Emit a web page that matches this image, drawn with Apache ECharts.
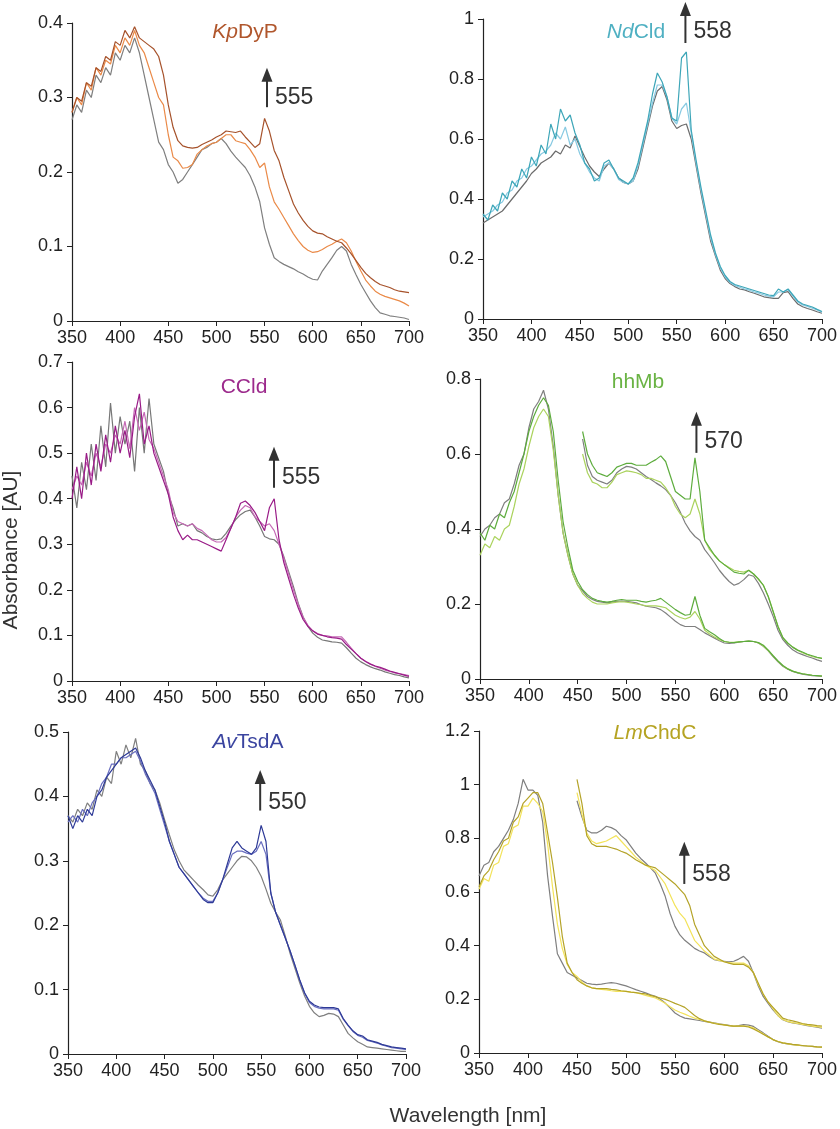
<!DOCTYPE html>
<html><head><meta charset="utf-8">
<script src="https://cdn.jsdelivr.net/npm/echarts@6/dist/echarts.min.js"></script>
<style>html,body{margin:0;padding:0;background:#fff}#c{width:840px;height:1129px}</style>
</head><body><div id="c"></div>
<script>
// ---------- DATA ----------
const wavelengths = [350,355,360,365,370,375,380,385,390,395,400,405,410,415,420,425,430,435,440,445,450,455,460,465,470,475,480,485,490,495,500,505,510,515,520,525,530,535,540,545,550,555,560,565,570,575,580,585,590,595,600,605,610,615,620,625,630,635,640,645,650,655,660,665,670,675,680,685,690,695,700];

// KpDyP
const kpGrey = [.27,.29,.28,.31,.30,.33,.32,.34,.33,.36, .35,.37,.36,.38,.36,.33,.30,.27,.24,.23, .21,.20,.185,.19,.20,.21,.22,.23,.233,.238, .24,.245,.238,.228,.22,.213,.206,.195,.18,.16, .125,.103,.085,.08,.076,.073,.07,.066,.063,.059, .056,.055,.067,.076,.085,.095,.10,.094,.076,.062, .049,.038,.027,.018,.011,.009,.007,.006,.005,.004, .002];
const kpOrange = [.28,.30,.29,.32,.31,.34,.33,.35,.345,.37, .36,.38,.37,.39,.37,.36,.34,.32,.30,.29, .25,.22,.215,.205,.206,.21,.224,.23,.235,.238, .24,.245,.25,.25,.242,.24,.238,.23,.22,.206, .212,.18,.16,.15,.139,.128,.117,.108,.10,.095, .092,.093,.096,.10,.103,.107,.11,.105,.094,.08, .067,.055,.047,.04,.036,.033,.031,.029,.027,.024, .02];
const kpBrown = [.28,.30,.295,.32,.315,.34,.335,.355,.35,.375, .37,.39,.38,.395,.38,.375,.37,.365,.355,.33, .29,.26,.242,.235,.233,.232,.233,.237,.24,.243, .247,.25,.255,.254,.253,.255,.247,.24,.233,.238, .272,.255,.229,.215,.193,.175,.157,.145,.135,.127, .121,.118,.117,.113,.11,.107,.105,.098,.09,.081, .072,.064,.058,.053,.049,.047,.045,.042,.04,.039, .038];

// NdCld
const ndGrey = [.32,.33,.34,.35,.36,.38,.40,.42,.44,.46, .485,.50,.52,.53,.54,.56,.55,.58,.57,.61, .575,.54,.51,.49,.475,.50,.52,.50,.47,.455, .45,.46,.50,.57,.64,.71,.76,.775,.73,.66, .635,.645,.65,.60,.51,.42,.34,.26,.21,.163, .135,.118,.108,.10,.097,.091,.086,.08,.074,.071, .069,.069,.088,.091,.069,.05,.041,.035,.03,.024, .019];
const ndLight = [.34,.35,.36,.38,.39,.42,.43,.46,.47,.50, .51,.53,.55,.56,.58,.62,.60,.64,.58,.60, .55,.52,.49,.47,.46,.51,.52,.50,.465,.455, .45,.46,.51,.58,.65,.72,.78,.78,.74,.67, .65,.70,.72,.62,.52,.43,.35,.27,.215,.17, .14,.122,.112,.106,.10,.096,.09,.086,.08,.076, .074,.09,.09,.098,.076,.057,.047,.042,.036,.03, .023];
const ndTeal = [.35,.33,.38,.36,.42,.40,.46,.44,.50,.47, .54,.51,.58,.55,.65,.60,.70,.66,.68,.62, .58,.52,.50,.46,.47,.52,.53,.50,.47,.46, .45,.47,.52,.59,.66,.75,.82,.79,.74,.67, .66,.87,.89,.63,.53,.44,.36,.28,.22,.175, .145,.125,.115,.11,.105,.10,.095,.09,.085,.08, .078,.10,.09,.10,.08,.06,.05,.045,.04,.032, .025];

// CCld
const ccGrey = [.45,.38,.48,.42,.52,.44,.56,.47,.61,.50, .58,.52,.57,.46,.60,.50,.62,.52,.49,.46, .41,.38,.34,.345,.34,.345,.33,.325,.317,.312, .31,.312,.324,.34,.354,.365,.372,.375,.36,.34, .317,.312,.31,.30,.273,.24,.207,.17,.141,.12, .105,.096,.09,.088,.086,.085,.083,.073,.061,.05, .042,.036,.031,.027,.024,.02,.017,.014,.012,.009, .007];
const ccPink = [.42,.45,.43,.48,.45,.50,.47,.52,.50,.54, .52,.57,.51,.60,.55,.59,.53,.51,.48,.45, .42,.37,.35,.345,.34,.345,.335,.33,.32,.31, .305,.305,.315,.335,.36,.375,.385,.38,.36,.35, .34,.345,.33,.30,.27,.235,.20,.168,.14,.122, .11,.104,.10,.099,.097,.097,.097,.085,.072,.06, .05,.043,.037,.032,.028,.024,.021,.018,.016,.014, .012];
const ccPurple = [.40,.47,.40,.50,.43,.52,.46,.54,.48,.56, .50,.55,.49,.58,.63,.52,.56,.50,.47,.44, .41,.36,.33,.31,.32,.31,.31,.305,.30,.295, .29,.285,.31,.335,.36,.39,.395,.385,.37,.35, .33,.38,.40,.31,.26,.225,.19,.16,.135,.12, .11,.103,.10,.097,.095,.094,.092,.08,.07,.06, .05,.043,.037,.033,.03,.026,.022,.019,.016,.013, .01];

// hhMb (full spectra from 350 nm; expanded spectra from 455 nm)
const hhGreyA = [.38,.40,.41,.43,.44,.47,.48,.52,.57,.60, .67,.72,.74,.77,.72,.62,.49,.39,.33,.28, .25,.235,.22,.212,.207,.205,.203,.205,.207,.208, .207,.205,.203,.198,.194,.192,.19,.185,.176,.165, .154,.145,.14,.14,.14,.132,.123,.116,.109,.102, .096,.095,.096,.098,.10,.101,.10,.096,.087,.075, .06,.046,.034,.026,.02,.016,.013,.011,.009,.008, .007];
const hhLightA = [.33,.36,.35,.38,.37,.40,.41,.46,.52,.56, .62,.67,.70,.72,.70,.61,.49,.39,.33,.28, .25,.228,.215,.205,.20,.20,.20,.203,.205,.206, .205,.203,.20,.198,.195,.195,.195,.193,.19,.18, .17,.164,.16,.165,.18,.16,.13,.12,.112,.105, .10,.098,.098,.099,.10,.101,.10,.096,.088,.076, .061,.047,.035,.027,.021,.017,.014,.012,.01,.009, .008];
const hhDarkA = [.39,.37,.41,.40,.44,.43,.47,.50,.55,.60, .66,.70,.73,.75,.73,.66,.53,.42,.35,.29, .26,.238,.225,.215,.21,.207,.205,.207,.21,.212, .21,.21,.21,.207,.205,.208,.21,.215,.205,.195, .185,.177,.17,.172,.22,.17,.135,.126,.118,.108, .10,.098,.097,.099,.10,.101,.10,.097,.09,.077, .062,.048,.036,.027,.021,.017,.014,.012,.01,.009, .008];
const hhGreyB = [.64,.57,.54,.53,.525,.52,.53,.55,.56, .567,.565,.56,.55,.54,.532,.523,.515,.505,.49, .47,.445,.416,.395,.38,.37,.345,.328,.31,.29, .274,.26,.25,.255,.265,.278,.274,.255,.23,.20, .167,.13,.105,.09,.078,.07,.065,.06,.056,.051, .047];
const hhLightB = [.60,.55,.525,.52,.51,.51,.525,.545,.55, .555,.553,.55,.545,.535,.535,.53,.525,.51,.49, .46,.44,.43,.44,.48,.44,.37,.345,.33,.315, .305,.297,.29,.287,.285,.29,.28,.265,.25,.22, .18,.14,.11,.095,.085,.077,.07,.065,.06,.057, .055];
const hhDarkB = [.66,.60,.57,.55,.545,.54,.55,.565,.57, .575,.575,.57,.57,.57,.578,.585,.595,.58,.54, .50,.49,.48,.48,.59,.50,.37,.35,.33,.315, .305,.295,.285,.282,.28,.29,.28,.267,.25,.22, .18,.14,.11,.096,.085,.077,.072,.066,.062,.058, .055];

// AvTsdA
const avGrey = [.37,.36,.38,.37,.39,.38,.41,.40,.43,.42, .47,.45,.48,.46,.49,.45,.44,.42,.41,.39, .364,.34,.317,.30,.286,.278,.27,.262,.255,.247, .245,.255,.27,.28,.29,.30,.307,.306,.30,.29, .276,.256,.234,.22,.208,.183,.156,.133,.11,.09, .074,.064,.058,.06,.063,.062,.058,.045,.032,.025, .019,.015,.011,.01,.009,.008,.007,.006,.005,.004, .004];
const avMid = [.36,.37,.36,.38,.37,.39,.40,.42,.43,.45, .45,.46,.46,.465,.47,.455,.435,.42,.405,.38, .355,.33,.31,.29,.28,.27,.26,.25,.242,.237, .237,.25,.27,.29,.31,.315,.315,.312,.31,.315, .33,.31,.25,.22,.20,.18,.16,.137,.114,.094, .08,.074,.071,.07,.07,.07,.068,.054,.044,.035, .029,.026,.021,.019,.017,.014,.012,.01,.009,.008, .007];
const avDark = [.37,.35,.37,.36,.38,.37,.40,.41,.43,.44, .45,.46,.465,.47,.475,.46,.44,.425,.41,.385, .36,.33,.31,.29,.28,.27,.26,.25,.24,.235, .235,.25,.27,.295,.32,.33,.32,.315,.31,.32, .355,.33,.25,.22,.20,.18,.16,.138,.115,.095, .082,.076,.073,.072,.072,.072,.07,.055,.045,.036, .03,.028,.022,.02,.018,.015,.013,.011,.01,.009, .008];

// LmChdC (full spectra from 350 nm; expanded spectra from 450 nm)
const lmGreyA = [.66,.70,.71,.75,.77,.80,.83,.87,.93,1.02, .98,.98,.96,.86,.66,.51,.37,.335,.30,.29, .28,.27,.26,.257,.255,.257,.26,.262,.26,.255, .25,.243,.236,.23,.224,.217,.211,.20,.186,.168, .149,.138,.13,.127,.124,.121,.118,.115,.112,.109, .106,.103,.099,.102,.106,.104,.099,.087,.075,.062, .05,.042,.037,.034,.031,.029,.027,.026,.025,.023, .022];
const lmYellowA = [.61,.65,.64,.70,.71,.77,.78,.84,.85,.92, .92,.95,.93,.90,.78,.62,.48,.39,.33,.30, .285,.265,.25,.243,.24,.237,.235,.232,.23,.23, .23,.227,.225,.22,.215,.21,.205,.196,.185,.172, .16,.152,.145,.137,.13,.125,.12,.115,.111,.108, .105,.102,.10,.10,.10,.099,.094,.083,.072,.06, .05,.043,.038,.034,.031,.029,.027,.026,.025,.023, .022];
const lmOliveA = [.62,.66,.68,.72,.75,.79,.80,.86,.88,.93, .95,.97,.97,.93,.82,.71,.58,.435,.335,.30, .273,.26,.25,.243,.24,.24,.24,.237,.235,.232, .23,.227,.225,.222,.22,.215,.21,.205,.20,.193, .185,.178,.17,.155,.14,.128,.12,.115,.11,.107, .105,.102,.10,.10,.10,.097,.09,.08,.07,.06, .05,.043,.038,.035,.032,.03,.028,.026,.025,.023, .022];
const lmGreyB = [.94,.88,.83,.82,.82,.83,.845,.84,.83,.81, .795,.77,.745,.725,.708,.69,.67,.63,.584,.52, .472,.44,.42,.405,.39,.38,.373,.36,.348,.344, .342,.34,.342,.35,.36,.342,.298,.25,.211,.185, .161,.14,.124,.117,.112,.109,.106,.102,.099,.096, .093];
const lmYellowB = [.97,.89,.82,.79,.78,.785,.79,.80,.81,.79, .77,.75,.73,.715,.70,.69,.68,.655,.63,.59, .55,.52,.50,.46,.42,.40,.38,.365,.35,.345, .34,.337,.335,.335,.335,.325,.30,.255,.22,.19, .165,.14,.125,.118,.113,.11,.107,.104,.10,.098, .095];
const lmOliveB = [1.02,.93,.81,.78,.77,.77,.77,.765,.76,.752, .745,.733,.72,.71,.70,.695,.69,.675,.66,.645, .63,.61,.59,.55,.48,.44,.40,.38,.36,.35, .34,.335,.33,.33,.33,.32,.30,.26,.22,.19, .17,.15,.13,.124,.12,.115,.11,.107,.105,.102, .10];

const panelTitles = [['Kp','DyP'],['Nd','Cld'],['','CCld'],['','hhMb'],['Av','TsdA'],['Lm','ChdC']];
const arrowLabels = ['555','558','555','570','550','558'];

// ---------- LAYOUT / STYLE ----------
const FONT = '"Liberation Sans", Arial, Helvetica, sans-serif';
const layout = [
  {left:72,  top:23,  width:337, height:298, ymax:0.4, yint:0.1, title:[245,32],  tcol:'#b0562c'},
  {left:483, top:19,  width:339, height:300, ymax:1,   yint:0.2, title:[636,32],  tcol:'#4fb0c2'},
  {left:72,  top:362, width:337, height:319, ymax:0.7, yint:0.1, title:[244,387], tcol:'#9c2a8c'},
  {left:480, top:379, width:344, height:300, ymax:0.8, yint:0.2, title:[638,382], tcol:'#6ab344'},
  {left:68,  top:732, width:338, height:322, ymax:0.5, yint:0.1, title:[248,742], tcol:'#3b45a0'},
  {left:479, top:731, width:343, height:322, ymax:1.2, yint:0.2, title:[655,733], tcol:'#b5a322'}
];
// arrow annotations: wavelength position, tip / base / label heights in axis units
const arrows = [
  {x:552.5, tip:0.340, base:0.287, ly:0.300},
  {x:559,   tip:1.057, base:0.920, ly:0.957},
  {x:559.8, tip:0.514, base:0.424, ly:0.446},
  {x:571.5, tip:0.713, base:0.603, ly:0.633},
  {x:549,   tip:0.441, base:0.378, ly:0.391},
  {x:559.5, tip:0.787, base:0.630, ly:0.663}
];
const G='#7f7f7f';
const panelSeries = [
  [[kpGrey,0,G],[kpOrange,0,'#ea8a48'],[kpBrown,0,'#a6522b']],
  [[ndGrey,0,'#6c6c6c'],[ndLight,0,'#88cae2'],[ndTeal,0,'#3da6b8']],
  [[ccGrey,0,'#777777'],[ccPink,0,'#c569b5'],[ccPurple,0,'#991b87']],
  [[hhGreyA,0,G],[hhGreyB,21,G],[hhLightA,0,'#abd35e'],[hhLightB,21,'#abd35e'],[hhDarkA,0,'#5dac3d'],[hhDarkB,21,'#5dac3d']],
  [[avGrey,0,G],[avMid,0,'#6a6fc0'],[avDark,0,'#2e3a97']],
  [[lmGreyA,0,G],[lmGreyB,20,G],[lmYellowA,0,'#f3e35a'],[lmYellowB,20,'#f3e35a'],[lmOliveA,0,'#b4a328'],[lmOliveB,20,'#b4a328']]
];

const grids=[], xAxes=[], yAxes=[], series=[];
layout.forEach((L,i)=>{
  grids.push({left:L.left, top:L.top, width:L.width, height:L.height, containLabel:false});
  const axLine = {show:true, lineStyle:{color:'#222', width:1.2}};
  xAxes.push({type:'value', gridIndex:i, min:350, max:700, interval:50,
    axisLine:axLine, axisTick:{show:true, length:5, lineStyle:{color:'#222'}},
    axisLabel:{fontSize:18, color:'#222', fontFamily:FONT, margin:8},
    splitLine:{show:false}});
  yAxes.push({type:'value', gridIndex:i, min:0, max:L.ymax, interval:L.yint,
    axisLine:axLine, axisTick:{show:true, length:5, lineStyle:{color:'#222'}},
    axisLabel:{fontSize:18, color:'#222', fontFamily:FONT, margin:9},
    splitLine:{show:false}});
  panelSeries[i].forEach(([vals,off,col])=>{
    series.push({type:'line', xAxisIndex:i, yAxisIndex:i, showSymbol:false, symbol:'none',
      silent:true, animation:false, clip:true,
      lineStyle:{color:col, width:1.2}, itemStyle:{color:col},
      data: vals.map((v,k)=>[wavelengths[k+off], v])});
  });
});

const chart = echarts.init(document.getElementById('c'));
chart.setOption({backgroundColor:'#fff', animation:false, grid:grids, xAxis:xAxes, yAxis:yAxes, series:series});

const graphics=[];
layout.forEach((L,i)=>{
  const [it,rest]=panelTitles[i];
  const txt = it ? '{i|'+it+'}'+rest : rest;
  graphics.push({type:'text', x:L.title[0], y:L.title[1], z:50,
    style:{text:txt, font:'21px '+FONT, fill:L.tcol, align:'center', verticalAlign:'middle',
      rich:{i:{fontStyle:'italic', fontSize:21, fontFamily:FONT, fill:L.tcol}}}});
  const a=arrows[i];
  const tipP = chart.convertToPixel({gridIndex:i},[a.x,a.tip]);
  const baseP = chart.convertToPixel({gridIndex:i},[a.x,a.base]);
  const labP = chart.convertToPixel({gridIndex:i},[a.x,a.ly]);
  const px=tipP[0], ty=tipP[1];
  graphics.push({type:'line', z:60, shape:{x1:px,y1:baseP[1],x2:px,y2:ty+10}, style:{stroke:'#333',lineWidth:2}});
  graphics.push({type:'polygon', z:60, shape:{points:[[px,ty],[px-5.5,ty+14],[px+5.5,ty+14]]}, style:{fill:'#333'}});
  graphics.push({type:'text', z:60, x:px+8, y:labP[1],
    style:{text:arrowLabels[i], font:'23px '+FONT, fill:'#333', align:'left', verticalAlign:'middle'}});
});
graphics.push({type:'text', x:11, y:550, rotation:Math.PI/2, z:50,
  style:{text:'Absorbance [AU]', font:'21px '+FONT, fill:'#333', align:'center', verticalAlign:'middle'}});
graphics.push({type:'text', x:468, y:1116, z:50,
  style:{text:'Wavelength [nm]', font:'21px '+FONT, fill:'#333', align:'center', verticalAlign:'middle'}});
chart.setOption({graphic:graphics});
</script></body></html>
